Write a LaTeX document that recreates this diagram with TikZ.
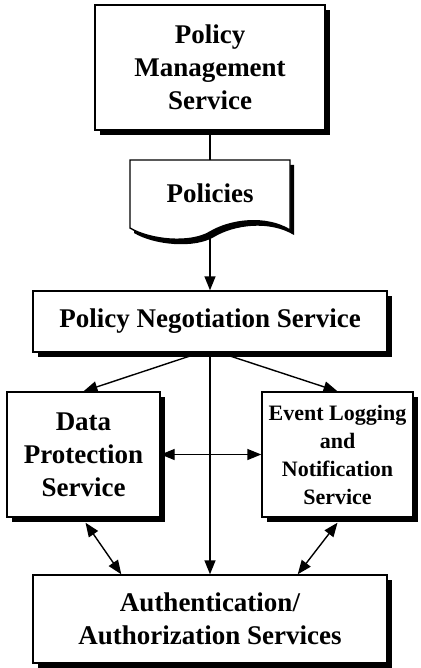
\documentclass[tikz,border=0pt]{standalone}
\usepackage{fontspec}
\setmainfont{Liberation Serif}
\usetikzlibrary{arrows.meta,shadows,calc}
\begin{document}
\begin{tikzpicture}[x=1pt,y=-1pt,
  box/.style={draw=black,line width=1.4pt,fill=white,align=center,
    font=\bfseries\fontsize{27}{33}\selectfont,inner sep=0pt,
    drop shadow={opacity=1,fill=black,shadow xshift=5pt,shadow yshift=-5pt}},
  smalltext/.style={font=\bfseries\fontsize{22}{28}\selectfont},
  conn/.style={line width=1.4pt},
  arr/.style={conn,-{Triangle[length=14pt,width=11pt]}},
  darr/.style={conn,{Triangle[length=14pt,width=11pt]}-{Triangle[length=14pt,width=11pt]}}]
\useasboundingbox (0,0) rectangle (420,668);
\fill[white] (0,0) rectangle (420,668);

% Policy Management Service
\node[box,minimum width=230pt,minimum height=125pt] (pms) at (210,67.5)
  {Policy\\Management\\Service};

% Policies document shape
\begin{scope}[shift={(4,5)}]
\fill[black] (130,160) -- (290,160) -- (290,230)
  .. controls (265,215) and (230,220) .. (210,232)
  .. controls (190,244) and (150,240) .. (130,228) -- cycle;
\end{scope}
\filldraw[fill=white,line width=1.4pt] (130,160) -- (290,160) -- (290,230)
  .. controls (265,215) and (230,220) .. (210,232)
  .. controls (190,244) and (150,240) .. (130,228) -- cycle;
\node[font=\bfseries\fontsize{27}{33}\selectfont] (pol) at (210,193) {Policies};
\coordinate (poltop) at (210,160);
\coordinate (polbot) at (210,232);

% Policy Negotiation Service
\node[box,minimum width=354pt,minimum height=61pt] (pns) at (210,321.5)
  {Policy Negotiation Service};

% Data Protection Service
\node[box,minimum width=153pt,minimum height=125pt] (dps) at (83.5,454.5)
  {Data\\Protection\\Service};

% Event Logging and Notification Service
\node[box,smalltext,minimum width=151pt,minimum height=125pt] (elns) at (337.5,454.5)
  {Event Logging\\and\\Notification\\Service};

% Authentication/Authorization Services
\node[box,minimum width=354pt,minimum height=88pt] (aas) at (210,619)
  {Authentication/\\Authorization Services};

% connectors
\draw[conn] (pms.south) -- (poltop);
\draw[arr] (polbot) -- (pns.north);
\draw[arr] ($(pns.south)+(-10,0)$) -- (dps.north);
\draw[arr] ($(pns.south)+(10,0)$) -- (elns.north);
\draw[arr] (pns.south) -- (aas.north);
\draw[darr] (dps.east) -- (elns.west);
\draw[darr] ($(dps.south)+(2,5)$) -- ($(aas.north west)+(89,0)$);
\draw[darr] ($(elns.south)+(0,5)$) -- ($(aas.north east)+(-90,0)$);
\end{tikzpicture}
\end{document}
